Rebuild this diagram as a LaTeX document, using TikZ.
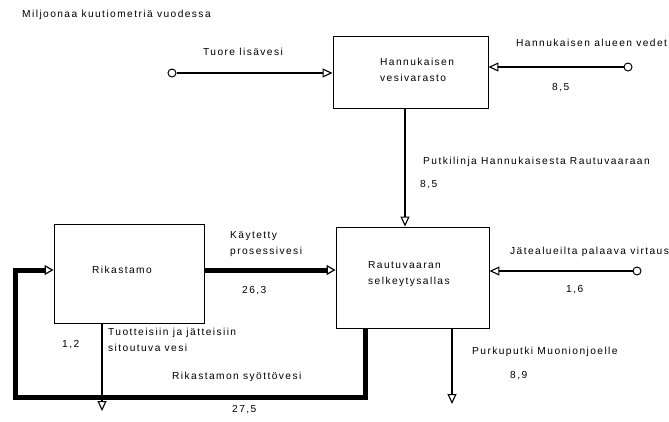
\documentclass[tikz,border=0pt]{standalone}
\usepackage{fontspec}
\setmainfont{Liberation Sans}[LetterSpace=14]
\usetikzlibrary{arrows.meta}
\begin{document}
\begin{tikzpicture}[x=1pt,y=-1pt,
  box/.style={draw, line width=0.9pt, inner sep=0},
  lbl/.style={font=\fontsize{10.2}{15.5}\selectfont, inner sep=0, anchor=west, align=left},
  flow/.style={line width=1.4pt, -{Triangle[open,length=10pt,width=9pt,line width=1.1pt]}},
  big/.style={line width=5pt, line join=miter, -{Triangle[open,length=9pt,width=10pt,line width=1.2pt]}},
  src/.style={circle, draw, line width=1pt, minimum size=8pt, inner sep=0, fill=white},
]
\useasboundingbox (0,0) rectangle (669,421);

% boxes
\node[box, minimum width=155pt, minimum height=72pt] (hv) at (410.5,72) {};
\node[box, minimum width=153pt, minimum height=101pt] (ra) at (412.5,277.5) {};
\node[box, minimum width=150pt, minimum height=99pt] (ri) at (129,273.5) {};

% box texts
\node[lbl] (hvt) at (380,70) {Hannukaisen\\vesivarasto};
\node[lbl] (rat) at (368,274) {Rautuvaaran\\selkeytysallas};
\node[lbl] (rit) at (92,270) {Rikastamo};

% helper coordinates
\coordinate (y270) at (0,270);
\coordinate (xpipe) at (405,0);
\coordinate (fc1) at (365,397);
\coordinate (fc2) at (15,397);
\coordinate (xo1) at (102,0);
\coordinate (o1) at (102,411);
\coordinate (xo2) at (452,0);
\coordinate (o2) at (452,404);

% sources
\node[src] (s1) at (172,73) {};
\node[src] (s2) at (628,67) {};
\node[src] (s3) at (637,271) {};

% flows
\draw[flow] (s1) -- (s1 -| hv.west);
\draw[flow] (s2) -- (s2 -| hv.east);
\draw[flow] (s3) -- (s3 -| ra.east);
\draw[flow] (hv.south -| xpipe) -- (ra.north -| xpipe);
\draw[big] (ri.east |- y270) -- (ra.west |- y270);
\draw[big] (ra.south -| fc1) -- (fc1) -- (fc2) -- (fc2 |- y270) -- (ri.west |- y270);
\draw[flow] (ri.south -| xo1) -- (o1);
\draw[flow] (ra.south -| xo2) -- (o2);

% labels
\node[lbl] (title) at (22,15) {Miljoonaa kuutiometriä vuodessa};
\node[lbl] (l1) at (203,52) {Tuore lisävesi};
\node[lbl] (l2) at (516,43) {Hannukaisen alueen vedet};
\node[lbl] (v2) at (552,88) {8,5};
\node[lbl] (l3) at (423,162) {Putkilinja Hannukaisesta Rautuvaaraan};
\node[lbl] (v3) at (420,185) {8,5};
\node[lbl] (l4) at (230,244) {Käytetty\\prosessivesi};
\node[lbl] (v4) at (242,291) {26,3};
\node[lbl] (l5) at (510,252) {Jätealueilta palaava virtaus};
\node[lbl] (v5) at (566,290) {1,6};
\node[lbl] (l6) at (108,340) {Tuotteisiin ja jätteisiin\\sitoutuva vesi};
\node[lbl] (v6) at (62,345) {1,2};
\node[lbl] (l7) at (172,377) {Rikastamon syöttövesi};
\node[lbl] (v7) at (232,410) {27,5};
\node[lbl] (l8) at (472,352) {Purkuputki Muonionjoelle};
\node[lbl] (v8) at (510,376) {8,9};
\end{tikzpicture}
\end{document}
